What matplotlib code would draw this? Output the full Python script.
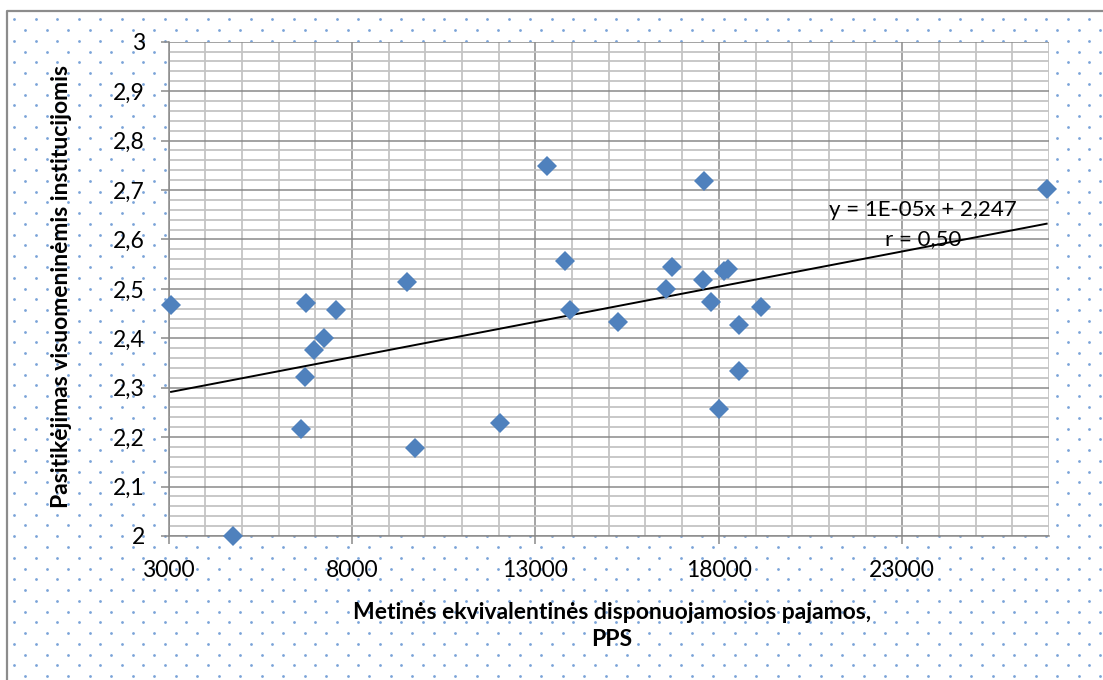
import numpy as np
import matplotlib
matplotlib.use("Agg")
from matplotlib import pyplot as plt
from matplotlib.ticker import MultipleLocator, FixedLocator

# pajamos (PPS) ir pasitikejimas institucijomis
pajamos = [3070, 4755, 6618, 6727, 6750, 6955, 7236, 7573, 9491, 9727,
           12027, 13317, 13808, 13955, 15254, 16554, 16737, 17572, 17599,
           17800, 18009, 18145, 18254, 18545, 18554, 19145, 26936]
pasitikejimas = [2.468, 2.000, 2.216, 2.322, 2.471, 2.377, 2.400, 2.457,
                 2.513, 2.178, 2.229, 2.749, 2.557, 2.457, 2.433, 2.499,
                 2.544, 2.517, 2.719, 2.473, 2.256, 2.536, 2.541, 2.334,
                 2.427, 2.464, 2.702]

x_ticks = [3000, 8000, 13000, 18000, 23000]
x_tick_labels = ["3000", "8000", "13000", "18000", "23000"]
y_ticks = [2.0, 2.1, 2.2, 2.3, 2.4, 2.5, 2.6, 2.7, 2.8, 2.9, 3.0]
y_tick_labels = ["2", "2,1", "2,2", "2,3", "2,4", "2,5", "2,6", "2,7", "2,8", "2,9", "3"]

lygtis = "y = 1E-05x + 2,247\nr = 0,50"
x_pavadinimas = "Metinės ekvivalentinės disponuojamosios pajamos,\nPPS"
y_pavadinimas = "Pasitikėjimas visuomeninėmis institucijomis"

plt.rcParams['font.family'] = ['Lato', 'DejaVu Sans']

W, H = 1103, 680
fig = plt.figure(figsize=(W / 100, H / 100), dpi=100)
fig.patch.set_facecolor('white')

# fonas su taskeliais (Excel rasto imitacija)
bg = fig.add_axes([0, 0, 1, 1], zorder=-5)
bg.set_xlim(0, W)
bg.set_ylim(H, 0)
bg.axis('off')
dy = 10.77
dx = 21.5
eilutes = np.arange(19.3, H + dy, dy)
for k, yy in enumerate(eilutes):
    start = 14.3 if k % 2 == 0 else 25.0
    xs = np.arange(start, W + dx, dx)
    xs = xs[xs > 10]
    bg.plot(xs, np.full(len(xs), yy), 'o', ms=2.0, color='#7AA3D8', mew=0)
bg.plot([7.3, 7.3, W + 10], [H + 10, 11, 11], color='#8C8C8C', lw=1.6)

# pagrindine diagrama
l, r, t, b = 168.5, 1049, 41.7, 536
ax = fig.add_axes([l / W, 1 - b / H, (r - l) / W, (b - t) / H])
ax.set_facecolor('white')
ax.set_xlim(3000, 27000)
ax.set_ylim(2.0, 3.0)

ax.set_xticks(x_ticks, x_tick_labels)
ax.xaxis.set_minor_locator(MultipleLocator(1000))
ax.set_yticks(y_ticks, y_tick_labels)
ax.yaxis.set_minor_locator(MultipleLocator(0.02))

ax.grid(which='minor', color='#C4C4C4', lw=1.3)
ax.grid(which='major', color='#8A8A8A', lw=1.1)
ax.set_axisbelow(True)

for s in ['top', 'right']:
    ax.spines[s].set_visible(False)
for s in ['left', 'bottom']:
    ax.spines[s].set_color('#8A8A8A')
    ax.spines[s].set_linewidth(1.1)

ax.tick_params(which='major', length=6, width=1.1, color='#8A8A8A',
               labelsize=16.5, labelcolor='black')
ax.tick_params(axis='y', pad=11)
ax.tick_params(axis='x', pad=11)
ax.tick_params(which='minor', length=0)

ax.plot(pajamos, pasitikejimas, 'D', ms=10, color='#4F81BD', mew=0,
        zorder=4, clip_on=False)

# tiesine tendencija
xa = np.array(pajamos, dtype=float)
ya = np.array(pasitikejimas, dtype=float)
k1, k0 = np.polyfit(xa, ya, 1)
xl = np.array([xa.min(), xa.max()])
ax.plot(xl, k0 + k1 * xl, color='black', lw=1.4, zorder=3)

ax.text(0.857, 0.63, lygtis, transform=ax.transAxes, ha='center', va='center',
        fontsize=16, linespacing=1.55, zorder=5)

fig.text(612 / W, 1 - 626 / H, x_pavadinimas, ha='center', va='center',
         fontsize=16.5, fontweight='bold', linespacing=1.3)
fig.text(62 / W, 1 - 286 / H, y_pavadinimas, ha='center', va='center',
         rotation=90, fontsize=16.5, fontweight='bold')

fig.savefig('out.png', dpi=100)
